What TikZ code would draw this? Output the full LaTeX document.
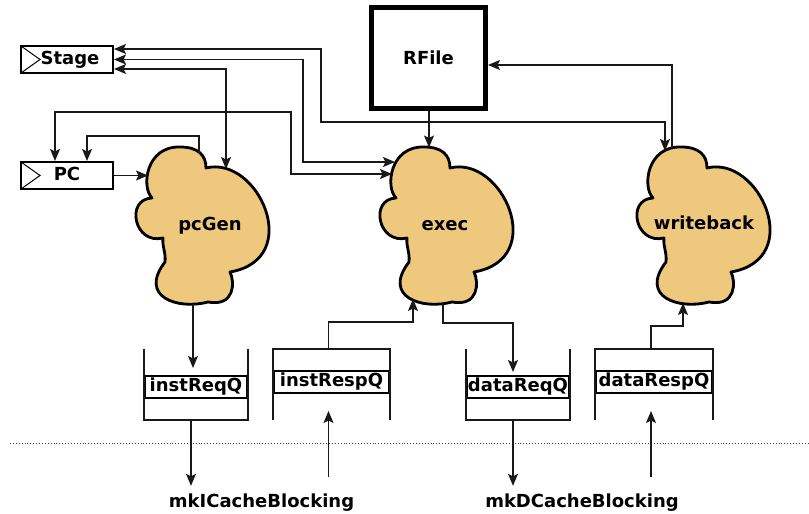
\documentclass[tikz,border=0pt]{standalone}
\usepackage{fontspec}
\setmainfont{DejaVu Sans}
\usepackage{tikz}
\usetikzlibrary{positioning, arrows.meta, calc}
\definecolor{blobfill}{RGB}{237,200,125}

\tikzset{blob/.pic={
	\draw[blobline] (68,21) .. controls (120,8) and (167,112) .. (92,125)
		.. controls (97,135) and (97,160) .. (70,155)
		.. controls (40,163) and (0,150) .. (27,115)
		.. controls (28,105) and (24,100) .. (25,91)
		.. controls (-4,98) and (-13,52) .. (14,51)
		.. controls (3,40) and (8,-1) .. (42,0)
		.. controls (60,0) and (68,8) .. (68,21) -- cycle;
}}

\begin{document}
\begin{tikzpicture}[x=1pt, y=-1pt, font={\bfseries\fontsize{18}{21}\selectfont},
	>={Stealth[length=12pt, width=10pt, inset=2.5pt]}]
	\tikzstyle{reg} = [draw, rectangle, line width=2pt, minimum width=92pt, minimum height=27pt, inner sep=0pt, text height=13pt, text depth=4pt,
		path picture={\draw[line width=1pt] (path picture bounding box.north west) -- ([xshift=19pt]path picture bounding box.west) -- (path picture bounding box.south west);}]
	\tikzstyle{rfile} = [draw, rectangle, line width=5pt, minimum width=114pt, minimum height=101pt]
	\tikzstyle{qband} = [draw, fill=white, rectangle, line width=2pt, minimum height=22pt, inner sep=0pt, text height=13pt, text depth=4pt]
	\tikzstyle{qwall} = [line width=2pt, black!90]
	\tikzstyle{blobline} = [draw, fill=blobfill, line width=2.8pt, line join=round]
	\tikzstyle{tag} = [inner sep=0pt, text height=13pt, text depth=4pt, anchor=base]
	\tikzstyle{link} = [line width=1.3pt, black!90]

	\useasboundingbox (0,0) rectangle (809,514);

	% state
	\node[reg] (stage) at (67,59.5) {\hspace{6pt}Stage};
	\node[reg, below=87pt of stage] (pc) {PC};
	\node[rfile] (rfile) at (428.5,58) {RFile};

	% rules
	\coordinate (pcGenC) at (138,147);
	\coordinate (execC) at (382,147);
	\coordinate (wbC) at (639,147);
	\pic at (pcGenC) {blob};
	\pic at (execC) {blob};
	\pic at (wbC) {blob};
	\node[tag] (pcGen) at (210,230) {pcGen};
	\node[tag] (exec) at (445,230) {exec};
	\node[tag] (writeback) at (704,229) {writeback};

	\coordinate (pcGen-st) at ($(pcGenC)+(88,22)$);
	\coordinate (pcGen-fb) at ($(pcGenC)+(61,6)$);
	\coordinate (pcGen-pc) at ($(pcGenC)+(10,28)$);
	\coordinate (pcGen-q) at ($(pcGenC)+(55,157)$);
	\coordinate (exec-rf) at ($(execC)+(47,0.5)$);
	\coordinate (exec-st) at ($(execC)+(13,15)$);
	\coordinate (exec-pc) at ($(execC)+(10,27)$);
	\coordinate (exec-iq) at ($(execC)+(31,152)$);
	\coordinate (exec-dq) at ($(execC)+(61,156)$);
	\coordinate (wb-st) at ($(wbC)+(26,4)$);
	\coordinate (wb-rf) at ($(wbC)+(33,1)$);
	\coordinate (wb-dq) at ($(wbC)+(44,156)$);

	% fifos
	\foreach \q/\cx/\w in {instReqQ/196/102, dataReqQ/518/102} {
		\node[qband, minimum width=\w pt] (\q) at (\cx,387) {\q};
		\draw[qwall] ($(\q.north west)+(0,-26)$) -- ($(\q.south west)+(0,21)$)
			-- ($(\q.south east)+(0,21)$) -- ($(\q.north east)+(0,-26)$);
		\coordinate (\q-base) at ($(\q.south)+(-5,21)$);
	}
	\foreach \q/\cx/\w in {instRespQ/331.5/115, dataRespQ/654/116} {
		\node[qband, minimum width=\w pt] (\q) at (\cx,382) {\q};
		\draw[qwall] ($(\q.south west)+(0,26)$) -- ($(\q.north west)+(0,-21)$)
			-- ($(\q.north east)+(0,-21)$) -- ($(\q.south east)+(0,26)$);
		\coordinate (\q-lid) at ($(\q.north)+(-3,-21)$);
	}

	\node[tag] (mkI) at (261.5,507) {mkICacheBlocking};
	\node[tag] (mkD) at (582,507) {mkDCacheBlocking};
	\draw[dotted, line width=0.9pt, black!75] (10,443) -- (809,443);

	% wires
	\draw[link, <->] ([yshift=-9.5pt]stage.east) -| (pcGen-st);
	\draw[link, <->] (stage.east) -| (303,162) -- (exec-st);
	\draw[link, <->] ([yshift=10.5pt]stage.east) -| (321,122) -| (wb-st);
	\draw[link, <->] ([xshift=-12pt]pc.north) |- (291,112) |- (exec-pc);
	\draw[link, ->] (pcGen-fb) |- (87,136) -- ([xshift=20pt]pc.north);
	\draw[link, ->] (pc.east) -- (pc.east -| pcGen-pc);
	\draw[link, ->] (rfile.south -| exec-rf) -- (exec-rf);
	\draw[link, ->] (wb-rf) |- ([yshift=-7pt]rfile.east);

	\draw[link, ->, shorten >=7pt] (pcGen-q) -- (pcGen-q |- instReqQ.north);
	\draw[link, ->] (instRespQ-lid) -- ++(0,-27) -| (exec-iq);
	\draw[link, ->, shorten >=3pt] (exec-dq) -- ++(0,20) -| ([xshift=-5pt]dataReqQ.north);
	\draw[link, ->] (dataRespQ-lid) -- ++(0,-23) -| (wb-dq);

	\draw[link, ->, shorten >=8pt] (instReqQ-base) -- (instReqQ-base |- mkI.north);
	\draw[link, ->, shorten >=8pt] (dataReqQ-base) -- (dataReqQ-base |- mkD.north);
	\draw[link, ->, shorten <=17pt, shorten >=17pt] (mkI.north -| instRespQ-lid) -- (instRespQ.south -| instRespQ-lid);
	\draw[link, ->, shorten <=17pt, shorten >=17pt] (mkD.north -| dataRespQ-lid) -- (dataRespQ.south -| dataRespQ-lid);
\end{tikzpicture}
\end{document}
